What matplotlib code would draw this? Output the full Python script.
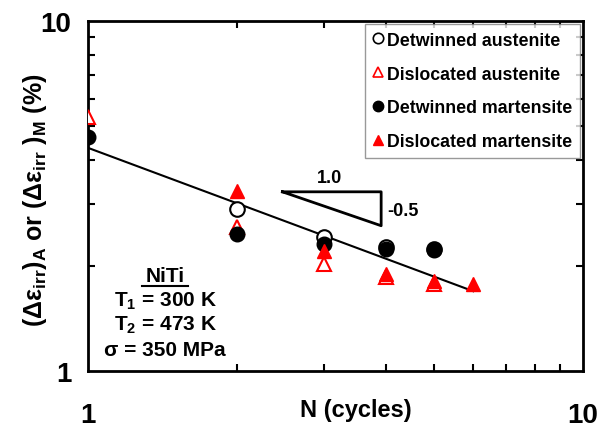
import numpy as np
import matplotlib
matplotlib.use("Agg")
import matplotlib.pyplot as plt
from matplotlib.lines import Line2D

plt.rcParams["font.family"] = ["Liberation Sans", "DejaVu Sans"]
plt.rcParams["font.weight"] = "bold"
plt.rcParams["mathtext.fontset"] = "custom"
plt.rcParams["mathtext.rm"] = "Liberation Sans:bold"
plt.rcParams["mathtext.it"] = "Liberation Sans:bold"
plt.rcParams["mathtext.bf"] = "Liberation Sans:bold"

# data (strain in %, vs cycle number N)
det_aus_N = [2, 3, 4, 5]
det_aus_val = [2.90, 2.41, 2.26, 2.23]

dis_aus_N = [1, 2, 3, 4, 5]
dis_aus_val = [5.32, 2.58, 2.02, 1.86, 1.77]

det_mar_N = [1, 2, 3, 4, 5]
det_mar_val = [4.66, 2.46, 2.31, 2.23, 2.21]

dis_mar_N = [2, 3, 4, 5, 6]
dis_mar_val = [3.27, 2.20, 1.89, 1.81, 1.77]

# power-law fit line endpoints
fit_N = [1, 6]
fit_val = [4.34, 1.69]

# slope triangle (1.0 : -0.5)
tri_N = [2.47, 3.91, 3.91, 2.47]
tri_val = [3.25, 3.25, 2.60, 3.25]

info_lines = ["T$_1$ = 300 K", "T$_2$ = 473 K", "σ = 350 MPa"]

fig = plt.figure(figsize=(6.0, 4.31), dpi=100)
ax = fig.add_axes([0.1467, 0.137, 0.825, 0.812])

ax.plot(fit_N, fit_val, color="black", lw=1.5, zorder=2)
ax.plot(tri_N, tri_val, color="black", lw=2, zorder=2)
ax.text(3.08, 3.58, "1.0", fontsize=13, fontweight="bold", ha="center", va="center")
ax.text(4.02, 2.87, "-0.5", fontsize=13, fontweight="bold", ha="left", va="center")

ax.plot(det_aus_N, det_aus_val, "o", ms=10.5, mfc="white", mec="black", mew=1.5,
        ls="none", zorder=3)
ax.plot(dis_aus_N, dis_aus_val, "^", ms=10.5, mfc="white", mec="red", mew=1.5,
        ls="none", zorder=4)
ax.plot(det_mar_N, det_mar_val, "o", ms=10.5, mfc="black", mec="black",
        ls="none", zorder=5)
ax.plot(dis_mar_N, dis_mar_val, "^", ms=10.5, mfc="red", mec="red",
        ls="none", zorder=6)

ax.set_xscale("log")
ax.set_yscale("log")
ax.set_xlim(1, 10)
ax.set_ylim(1, 10)

ax.set_xticks([1, 10])
ax.set_xticklabels(["1", "10"])
ax.set_yticks([1, 10])
ax.set_yticklabels(["1", "10"])
ax.tick_params(which="major", length=0, labelsize=20, pad=12)
ax.tick_params(axis="x", which="major", pad=22)
ax.tick_params(which="minor", direction="in", length=5, width=1.5,
               top=True, right=True, labelleft=False, labelbottom=False)
for lab in ax.get_xticklabels() + ax.get_yticklabels():
    lab.set_fontweight("bold")
for sp in ax.spines.values():
    sp.set_linewidth(2)

ax.set_xlabel("N (cycles)", fontsize=17, fontweight="bold")
ax.xaxis.set_label_coords(0.54, -0.109)
ax.xaxis.label.set_va("center")
ax.set_ylabel("(Δε$_{irr}$)$_A$ or (Δε$_{irr}$ )$_M$ (%)", fontsize=18,
              fontweight="bold")
ax.yaxis.set_label_coords(-0.107, 0.49)
ax.yaxis.label.set_va("center")

# material / test condition block
ax.text(0.156, 0.274, "NiTi", transform=ax.transAxes, fontsize=15,
        fontweight="bold", ha="center", va="center")
ax.plot([0.11, 0.202], [0.242, 0.242], transform=ax.transAxes,
        color="black", lw=1.5)
for i, s in enumerate(info_lines):
    ax.text(0.156, 0.203 - i * 0.071, s, transform=ax.transAxes, fontsize=15,
            fontweight="bold", ha="center", va="center")

handles = [
    Line2D([], [], marker="o", ls="none", ms=7.5, mfc="white", mec="black", mew=1.2),
    Line2D([], [], marker="^", ls="none", ms=7.5, mfc="white", mec="red", mew=1.2),
    Line2D([], [], marker="o", ls="none", ms=7.5, mfc="black", mec="black"),
    Line2D([], [], marker="^", ls="none", ms=7.5, mfc="red", mec="red"),
]
labels = ["Detwinned austenite", "Dislocated austenite",
          "Detwinned martensite", "Dislocated martensite"]
leg = ax.legend(handles, labels, loc="upper right",
                prop={"weight": "bold", "size": 12.8},
                frameon=True, fancybox=False, borderaxespad=0.15,
                handlelength=0.6, handletextpad=0.2, labelspacing=0.95,
                borderpad=0.45)
leg.get_frame().set_edgecolor("#808080")
leg.get_frame().set_linewidth(1)

fig.savefig("out.png", dpi=100)
